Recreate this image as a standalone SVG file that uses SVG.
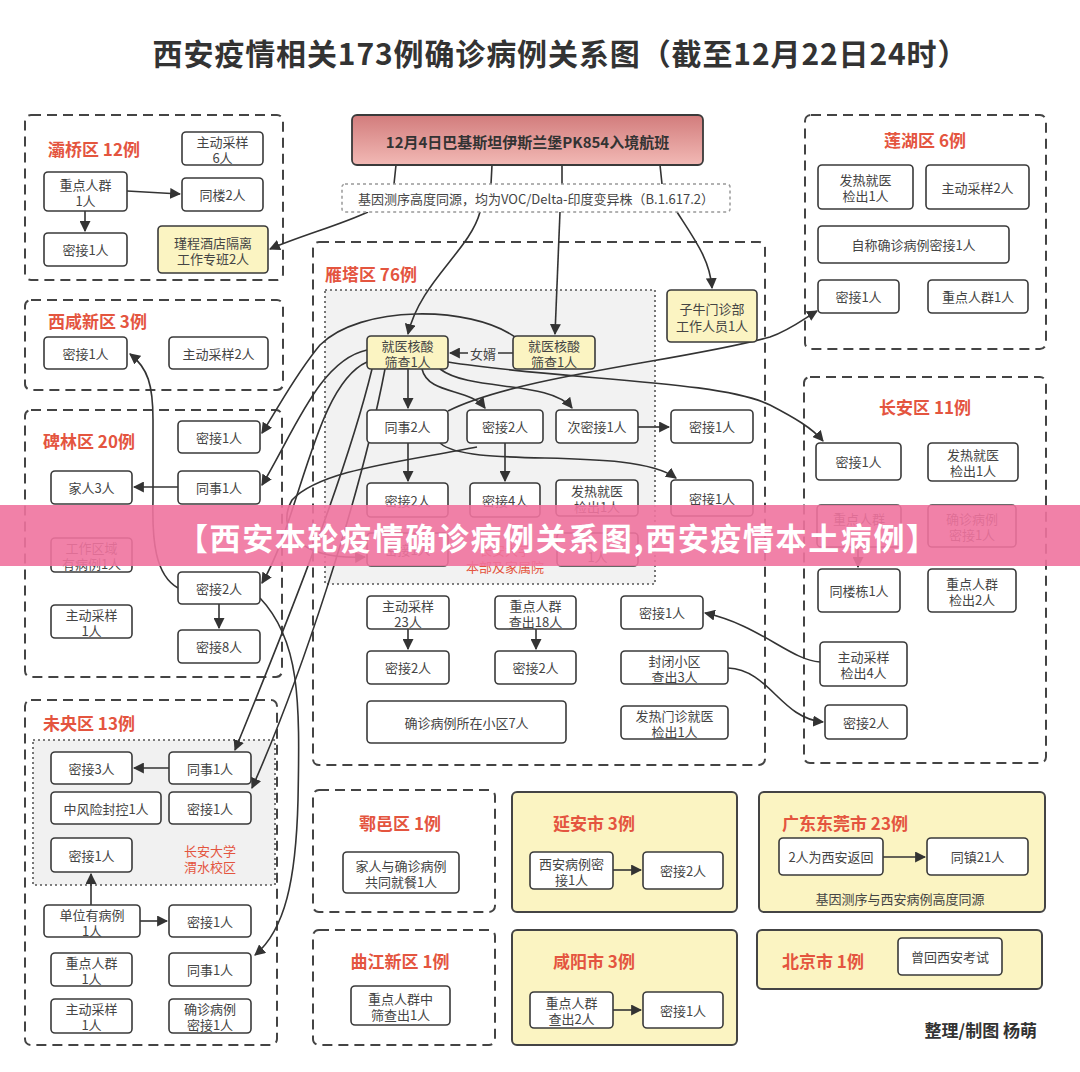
<svg xmlns="http://www.w3.org/2000/svg" width="1080" height="1072" viewBox="0 0 1080 1072">
<defs>
<style>
text{font-family:"Noto Sans CJK SC","Noto Sans",sans-serif}
.n{fill:#fff;stroke:#3a3a3a;stroke-width:1.6}
.y{fill:#fbf4c2;stroke:#3a3a3a;stroke-width:1.6}
.t{font-size:13px;fill:#444;text-anchor:middle;dominant-baseline:central}
.lb{font-size:17px;font-weight:bold;fill:#e4553f;dominant-baseline:central}
.rt{font-size:13px;fill:#e4553f;text-anchor:middle;dominant-baseline:central}
.d{fill:none;stroke:#444;stroke-width:2;stroke-dasharray:10 6}
.yd{fill:#fbf4c2;stroke:#444;stroke-width:2}
.c{fill:none;stroke:#333;stroke-width:1.6;marker-end:url(#a)}
.l{fill:none;stroke:#333;stroke-width:1.6}
</style>
<marker id="a" viewBox="0 0 10 10" refX="9" refY="5" markerWidth="11" markerHeight="11" markerUnits="userSpaceOnUse" orient="auto">
<path d="M0 0 L10 5 L0 10 z" fill="#333"/>
</marker>
<linearGradient id="fg" x1="0" y1="0" x2="0" y2="1">
<stop offset="0" stop-color="#d27c7c"/>
<stop offset="1" stop-color="#f2b9b5"/>
</linearGradient>
</defs>
<rect width="1080" height="1072" fill="#fff"/>
<text x="560" y="52" font-size="30" font-weight="bold" fill="#333" text-anchor="middle" dominant-baseline="central" textLength="815">西安疫情相关173例确诊病例关系图（截至12月22日24时）</text>

<!-- district frames -->
<g id="districts">
<rect class="d" x="25" y="115" width="258" height="165" rx="6"/>
<text class="lb" x="48" y="148">灞桥区 12例</text>
<rect class="d" x="25" y="300" width="258" height="90" rx="6"/>
<text class="lb" x="48" y="320">西咸新区 3例</text>
<rect class="d" x="25" y="410" width="257" height="267" rx="6"/>
<text class="lb" x="43" y="440">碑林区 20例</text>
<rect class="d" x="25" y="700" width="252" height="345" rx="6"/>
<text class="lb" x="43" y="722">未央区 13例</text>
<rect x="33" y="740" width="242" height="145" fill="#f1f1f1" stroke="#555" stroke-width="1.6" stroke-dasharray="2 3"/>
<text class="rt" x="210" y="850">长安大学</text>
<text class="rt" x="210" y="866">渭水校区</text>
<rect class="d" x="313" y="242" width="452" height="523" rx="6"/>
<text class="lb" x="325" y="273">雁塔区 76例</text>
<rect x="325" y="290" width="330" height="294" fill="#f2f2f2" stroke="#555" stroke-width="1.6" stroke-dasharray="2 3"/>
<text class="rt" x="505" y="549">长安大学</text>
<text class="rt" x="505" y="566">本部及家属院</text>
<rect class="d" x="805" y="115" width="241" height="234" rx="6"/>
<text class="lb" x="925" y="139" text-anchor="middle">莲湖区 6例</text>
<rect class="d" x="804" y="377" width="242" height="386" rx="6"/>
<text class="lb" x="925" y="406" text-anchor="middle">长安区 11例</text>
<rect class="d" x="313" y="790" width="182" height="122" rx="6"/>
<text class="lb" x="400" y="822" text-anchor="middle">鄠邑区 1例</text>
<rect class="d" x="313" y="930" width="182" height="115" rx="6"/>
<text class="lb" x="400" y="960" text-anchor="middle">曲江新区 1例</text>
<rect class="yd" x="512" y="792" width="225" height="120" rx="5"/>
<text class="lb" x="553" y="822">延安市 3例</text>
<rect class="yd" x="512" y="930" width="225" height="115" rx="5"/>
<text class="lb" x="553" y="960">咸阳市 3例</text>
<rect class="yd" x="759" y="792" width="286" height="120" rx="5"/>
<text class="lb" x="782" y="822">广东东莞市 23例</text>
<text class="t" x="900" y="898">基因测序与西安病例高度同源</text>
<rect class="yd" x="757" y="930" width="285" height="59" rx="5"/>
<text class="lb" x="782" y="960">北京市 1例</text>
</g>

<!-- connectors -->
<g id="connectors">
<path class="l" d="M396 165 L394 184 M492 165 L491 184 M562 165 L562 184 M660 165 L662 184"/>
<path class="c" d="M127 191 L180 194"/>
<path class="c" d="M85 211 L85 231"/>
<path class="c" d="M178 487 L134 487"/>
<path class="c" d="M219 604 L219 628"/>
<path class="c" d="M169 768 L134 768"/>
<path class="c" d="M91 905 L91 874"/>
<path class="c" d="M140 921 L167 921"/>
<path class="c" d="M368 212 C340 225 300 236 270 249"/>
<path class="c" d="M480 212 C470 250 420 282 408 334"/>
<path class="c" d="M560 212 L555 334"/>
<path class="c" d="M677 212 C695 240 710 260 712 288"/>
<path class="c" d="M513 353 L450 353"/>
<rect x="468" y="345" width="30" height="16" fill="#f2f2f2"/>
<text class="t" x="483" y="353">女婿</text>
<path class="c" d="M408 369 L408 408"/>
<path class="c" d="M422 369 C428 395 470 388 485 408"/>
<path class="c" d="M440 369 C470 392 550 380 572 408"/>
<path class="c" d="M448 362 C560 380 720 380 770 405 C795 418 812 428 823 441"/>
<path class="c" d="M448 411 C520 375 690 360 770 337 C790 330 805 318 817 311"/>
<path class="c" d="M638 427 L669 427"/>
<path class="c" d="M408 443 L408 481"/>
<path class="c" d="M505 443 L505 481"/>
<path class="c" d="M440 443 C470 470 630 445 676 478"/>
<path class="c" d="M477 447 C400 462 320 470 292 500 C275 530 300 560 365 557"/>
<path class="c" d="M515 337 C470 305 360 305 320 345 C295 375 280 405 262 433"/>
<path class="c" d="M367 350 C320 360 295 430 262 485"/>
<path class="c" d="M367 362 C315 385 300 520 262 583"/>
<path class="c" d="M372 369 C345 480 280 640 235 750"/>
<path class="c" d="M385 369 C360 500 300 680 252 788"/>
<path class="c" d="M260 598 C300 640 300 700 298 800 C296 880 285 930 255 955"/>
<path class="c" d="M178 588 C155 575 152 540 153 500 L153 420 C153 385 148 368 130 354"/>
<path class="c" d="M408 629 L408 649"/>
<path class="c" d="M536 629 L536 649"/>
<path class="c" d="M820 662 C790 660 760 625 705 613"/>
<path class="c" d="M728 668 C770 670 780 718 823 722"/>
<path class="c" d="M858 547 L858 567"/>
<path class="c" d="M613 870 L641 870"/>
<path class="c" d="M613 1010 L641 1010"/>
<path class="c" d="M883 857 L925 857"/>
</g>

<!-- nodes -->
<g id="bq1"><rect class="n" x="182" y="132" width="81" height="33" rx="4"/><text class="t" x="222.5"><tspan x="222.5" y="141">主动采样</tspan><tspan x="222.5" y="157">6人</tspan></text></g>
<g id="bq2"><rect class="n" x="44" y="172" width="83" height="39" rx="4"/><text class="t"><tspan x="85.5" y="184">重点人群</tspan><tspan x="85.5" y="200">1人</tspan></text></g>
<g id="bq3"><rect class="n" x="182" y="178" width="81" height="33" rx="4"/><text class="t" x="222.5" y="194.5">同楼2人</text></g>
<g id="bq4"><rect class="n" x="44" y="233" width="83" height="33" rx="4"/><text class="t" x="85.5" y="249.5">密接1人</text></g>
<g id="bq5"><rect class="y" x="158" y="226" width="110" height="47" rx="4"/><text class="t"><tspan x="213" y="241.5">瑾程酒店隔离</tspan><tspan x="213" y="257.5">工作专班2人</tspan></text></g>

<g id="xx1"><rect class="n" x="44" y="337" width="83" height="32" rx="4"/><text class="t" x="85.5" y="353">密接1人</text></g>
<g id="xx2"><rect class="n" x="169" y="337" width="99" height="32" rx="4"/><text class="t" x="218.5" y="353">主动采样2人</text></g>

<g id="bl1"><rect class="n" x="178" y="421" width="82" height="32" rx="4"/><text class="t" x="219" y="437">密接1人</text></g>
<g id="bl2"><rect class="n" x="51" y="471" width="81" height="33" rx="4"/><text class="t" x="91.5" y="487.5">家人3人</text></g>
<g id="bl3"><rect class="n" x="178" y="471" width="82" height="33" rx="4"/><text class="t" x="219" y="487.5">同事1人</text></g>
<g id="bl4"><rect class="n" x="51" y="538" width="81" height="34" rx="4"/><text class="t"><tspan x="91.5" y="547">工作区域</tspan><tspan x="91.5" y="563">有病例1人</tspan></text></g>
<g id="bl5"><rect class="n" x="178" y="572" width="82" height="32" rx="4"/><text class="t" x="219" y="588">密接2人</text></g>
<g id="bl6"><rect class="n" x="51" y="605" width="81" height="33" rx="4"/><text class="t"><tspan x="91.5" y="613.5">主动采样</tspan><tspan x="91.5" y="629.5">1人</tspan></text></g>
<g id="bl7"><rect class="n" x="178" y="630" width="82" height="33" rx="4"/><text class="t" x="219" y="646.5">密接8人</text></g>

<g id="wy1"><rect class="n" x="51" y="752" width="81" height="32" rx="4"/><text class="t" x="91.5" y="768">密接3人</text></g>
<g id="wy2"><rect class="n" x="169" y="752" width="82" height="32" rx="4"/><text class="t" x="210" y="768">同事1人</text></g>
<g id="wy3"><rect class="n" x="51" y="792" width="110" height="32" rx="4"/><text class="t" x="106" y="808">中风险封控1人</text></g>
<g id="wy4"><rect class="n" x="169" y="792" width="82" height="32" rx="4"/><text class="t" x="210" y="808">密接1人</text></g>
<g id="wy5"><rect class="n" x="51" y="838" width="81" height="34" rx="4"/><text class="t" x="91.5" y="855">密接1人</text></g>
<g id="wy6"><rect class="n" x="44" y="905" width="96" height="32" rx="4"/><text class="t"><tspan x="92" y="914">单位有病例</tspan><tspan x="92" y="930">1人</tspan></text></g>
<g id="wy7"><rect class="n" x="169" y="905" width="82" height="32" rx="4"/><text class="t" x="210" y="921">密接1人</text></g>
<g id="wy8"><rect class="n" x="51" y="953" width="81" height="33" rx="4"/><text class="t"><tspan x="91.5" y="961.5">重点人群</tspan><tspan x="91.5" y="977.5">1人</tspan></text></g>
<g id="wy9"><rect class="n" x="169" y="953" width="82" height="33" rx="4"/><text class="t" x="210" y="969.5">同事1人</text></g>
<g id="wy10"><rect class="n" x="51" y="999" width="81" height="34" rx="4"/><text class="t"><tspan x="91.5" y="1008">主动采样</tspan><tspan x="91.5" y="1024">1人</tspan></text></g>
<g id="wy11"><rect class="n" x="169" y="999" width="82" height="34" rx="4"/><text class="t"><tspan x="210" y="1008">确诊病例</tspan><tspan x="210" y="1024">密接1人</tspan></text></g>

<g id="flight"><rect x="352" y="115" width="351" height="50" rx="5" fill="url(#fg)" stroke="#3a3a3a" stroke-width="1.8"/><text x="527.5" y="141" font-size="15" font-weight="bold" fill="#333" text-anchor="middle" dominant-baseline="central">12月4日巴基斯坦伊斯兰堡PK854入境航班</text></g>
<g id="gene"><rect x="342" y="184" width="388" height="28" rx="3" fill="#fff" stroke="#999" stroke-width="1.5" stroke-dasharray="3 3"/><text class="t" x="536" y="198" font-size="12.5">基因测序高度同源，均为VOC/Delta-印度变异株（B.1.617.2）</text></g>

<g id="yt_zn"><rect class="y" x="667" y="290" width="90" height="52" rx="4"/><text class="t"><tspan x="712" y="308">子牛门诊部</tspan><tspan x="712" y="325">工作人员1人</tspan></text></g>
<g id="yt_y1"><rect class="y" x="367" y="336" width="81" height="33" rx="4"/><text class="t"><tspan x="407.5" y="344.5">就医核酸</tspan><tspan x="407.5" y="360.5">筛查1人</tspan></text></g>
<g id="yt_y2"><rect class="y" x="513" y="336" width="82" height="33" rx="4"/><text class="t"><tspan x="554" y="344.5">就医核酸</tspan><tspan x="554" y="360.5">筛查1人</tspan></text></g>
<g id="yt_r2a"><rect class="n" x="367" y="410" width="81" height="33" rx="4"/><text class="t" x="407.5" y="426.5">同事2人</text></g>
<g id="yt_r2b"><rect class="n" x="467" y="410" width="76" height="33" rx="4"/><text class="t" x="505" y="426.5">密接2人</text></g>
<g id="yt_r2c"><rect class="n" x="556" y="410" width="82" height="33" rx="4"/><text class="t" x="597" y="426.5">次密接1人</text></g>
<g id="yt_r2d"><rect class="n" x="671" y="410" width="82" height="33" rx="4"/><text class="t" x="712" y="426.5">密接1人</text></g>
<g id="yt_r3a"><rect class="n" x="367" y="483" width="81" height="34" rx="4"/><text class="t" x="407.5" y="500">密接2人</text></g>
<g id="yt_r3b"><rect class="n" x="470" y="483" width="70" height="34" rx="4"/><text class="t" x="505" y="500">密接4人</text></g>
<g id="yt_r3c"><rect class="n" x="556" y="480" width="82" height="36" rx="4"/><text class="t"><tspan x="597" y="490">发热就医</tspan><tspan x="597" y="506">检出1人</tspan></text></g>
<g id="yt_r3d"><rect class="n" x="671" y="480" width="82" height="36" rx="4"/><text class="t" x="712" y="498">密接1人</text></g>
<g id="yt_r4a"><rect class="n" x="367" y="533" width="81" height="33" rx="4"/><text class="t" x="407.5" y="549.5">密接1人</text></g>
<g id="yt_r4c"><rect class="n" x="557" y="533" width="81" height="33" rx="4"/><text class="t" x="597.5" y="556">1人</text></g>
<g id="yt_a1"><rect class="n" x="367" y="596" width="82" height="33" rx="4"/><text class="t"><tspan x="408" y="604.5">主动采样</tspan><tspan x="408" y="620.5">23人</tspan></text></g>
<g id="yt_a2"><rect class="n" x="495" y="596" width="81" height="33" rx="4"/><text class="t"><tspan x="535.5" y="604.5">重点人群</tspan><tspan x="535.5" y="620.5">查出18人</tspan></text></g>
<g id="yt_a3"><rect class="n" x="621" y="596" width="82" height="33" rx="4"/><text class="t" x="662" y="612.5">密接1人</text></g>
<g id="yt_b1"><rect class="n" x="367" y="651" width="82" height="33" rx="4"/><text class="t" x="408" y="667.5">密接2人</text></g>
<g id="yt_b2"><rect class="n" x="495" y="651" width="81" height="33" rx="4"/><text class="t" x="535.5" y="667.5">密接2人</text></g>
<g id="yt_b3"><rect class="n" x="621" y="651" width="107" height="33" rx="4"/><text class="t"><tspan x="674.5" y="659.5">封闭小区</tspan><tspan x="674.5" y="675.5">查出3人</tspan></text></g>
<g id="yt_c1"><rect class="n" x="367" y="701" width="199" height="42" rx="4"/><text class="t" x="466.5" y="722">确诊病例所在小区7人</text></g>
<g id="yt_c3"><rect class="n" x="621" y="706" width="107" height="33" rx="4"/><text class="t"><tspan x="674.5" y="714.5">发热门诊就医</tspan><tspan x="674.5" y="730.5">检出1人</tspan></text></g>

<g id="lh1"><rect class="n" x="818" y="165" width="95" height="44" rx="4"/><text class="t"><tspan x="865.5" y="179">发热就医</tspan><tspan x="865.5" y="195">检出1人</tspan></text></g>
<g id="lh2"><rect class="n" x="926" y="165" width="103" height="44" rx="4"/><text class="t" x="977.5" y="187">主动采样2人</text></g>
<g id="lh3"><rect class="n" x="818" y="226" width="191" height="37" rx="4"/><text class="t" x="913.5" y="244.5">自称确诊病例密接1人</text></g>
<g id="lh4"><rect class="n" x="818" y="280" width="81" height="33" rx="4"/><text class="t" x="858.5" y="296.5">密接1人</text></g>
<g id="lh5"><rect class="n" x="928" y="280" width="100" height="33" rx="4"/><text class="t" x="978" y="296.5">重点人群1人</text></g>

<g id="ca1"><rect class="n" x="816" y="443" width="85" height="37" rx="4"/><text class="t" x="858.5" y="461.5">密接1人</text></g>
<g id="ca2"><rect class="n" x="928" y="443" width="90" height="38" rx="4"/><text class="t"><tspan x="973" y="454">发热就医</tspan><tspan x="973" y="470">检出1人</tspan></text></g>
<g id="ca_h1"><rect class="n" x="817" y="505" width="84" height="42" rx="4"/><text class="t" x="859" y="518">重点人群</text></g>
<g id="ca_h2"><rect class="n" x="928" y="505" width="88" height="42" rx="4"/><text class="t"><tspan x="972" y="518">确诊病例</tspan><tspan x="972" y="534">密接1人</tspan></text></g>
<g id="ca3"><rect class="n" x="818" y="569" width="82" height="43" rx="4"/><text class="t" x="859" y="590.5">同楼栋1人</text></g>
<g id="ca4"><rect class="n" x="928" y="569" width="88" height="43" rx="4"/><text class="t"><tspan x="972" y="582.5">重点人群</tspan><tspan x="972" y="598.5">检出2人</tspan></text></g>
<g id="ca5"><rect class="n" x="820" y="642" width="87" height="44" rx="4"/><text class="t"><tspan x="863.5" y="656">主动采样</tspan><tspan x="863.5" y="672">检出4人</tspan></text></g>
<g id="ca6"><rect class="n" x="825" y="705" width="82" height="34" rx="4"/><text class="t" x="866" y="722">密接2人</text></g>

<g id="hy1"><rect class="n" x="343" y="852" width="116" height="41" rx="4"/><text class="t"><tspan x="401" y="864.5">家人与确诊病例</tspan><tspan x="401" y="880.5">共同就餐1人</tspan></text></g>
<g id="qj1"><rect class="n" x="351" y="986" width="99" height="39" rx="4"/><text class="t"><tspan x="400.5" y="997.5">重点人群中</tspan><tspan x="400.5" y="1013.5">筛查出1人</tspan></text></g>
<g id="ya1"><rect class="n" x="530" y="852" width="83" height="37" rx="4"/><text class="t"><tspan x="571.5" y="862.5">西安病例密</tspan><tspan x="571.5" y="878.5">接1人</tspan></text></g>
<g id="ya2"><rect class="n" x="643" y="852" width="80" height="37" rx="4"/><text class="t" x="683" y="870.5">密接2人</text></g>
<g id="xy1"><rect class="n" x="530" y="992" width="83" height="36" rx="4"/><text class="t"><tspan x="571.5" y="1002">重点人群</tspan><tspan x="571.5" y="1018">查出2人</tspan></text></g>
<g id="xy2"><rect class="n" x="643" y="992" width="80" height="36" rx="4"/><text class="t" x="683" y="1010">密接1人</text></g>
<g id="dg1"><rect class="n" x="779" y="838" width="104" height="37" rx="4"/><text class="t" x="831" y="856.5">2人为西安返回</text></g>
<g id="dg2"><rect class="n" x="927" y="838" width="101" height="37" rx="4"/><text class="t" x="977.5" y="856.5">同镇21人</text></g>
<g id="bj1"><rect class="n" x="898" y="938" width="104" height="37" rx="4"/><text class="t" x="950" y="956.5">曾回西安考试</text></g>

<text x="1037" y="1029" font-size="17" font-weight="bold" fill="#333" text-anchor="end" dominant-baseline="central">整理/制图 杨萌</text>

<g id="banner">
<rect x="0" y="505" width="1080" height="61" fill="#f0739f" opacity="0.9"/>
<text x="557" y="536" font-size="31" font-weight="bold" fill="#fff" text-anchor="middle" dominant-baseline="central" textLength="760">【西安本轮疫情确诊病例关系图,西安疫情本土病例】</text>
</g>
</svg>
